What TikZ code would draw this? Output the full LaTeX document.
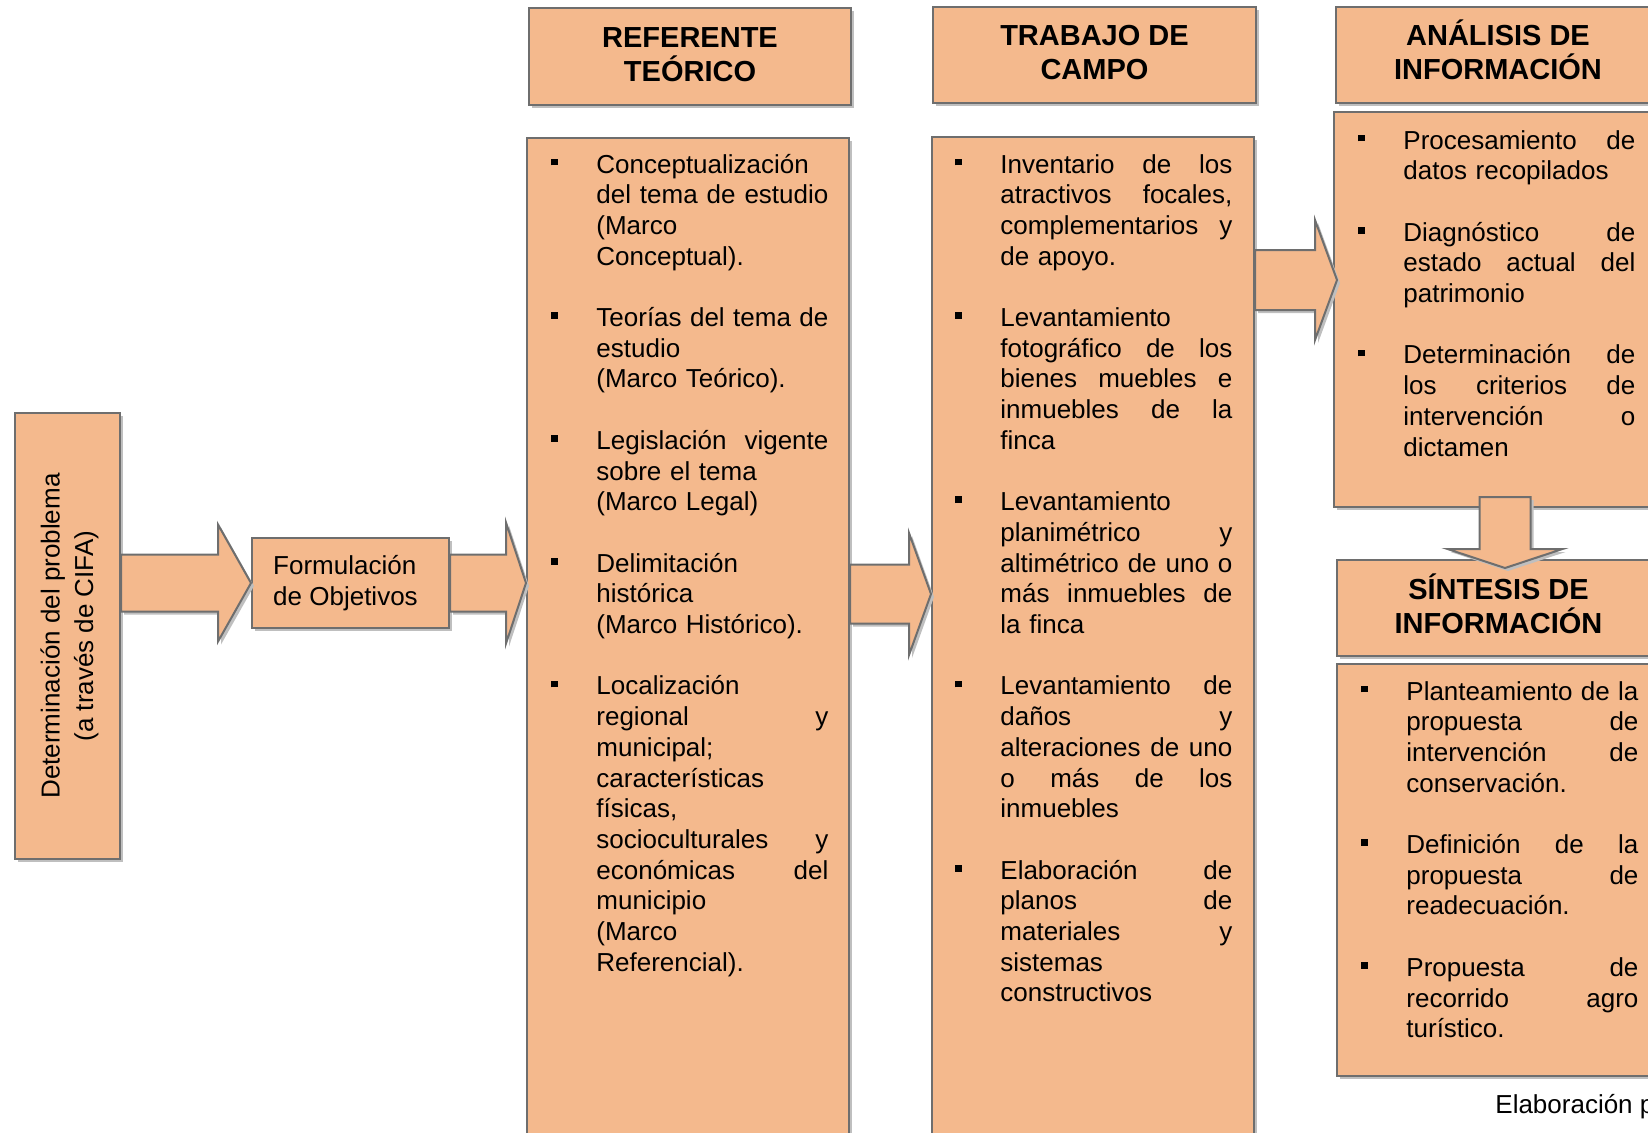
\documentclass[tikz,border=0pt]{standalone}
\usepackage{fontspec}
\setmainfont{Liberation Sans}
\usetikzlibrary{calc,fit,shadows}

\begin{document}
\begin{tikzpicture}[x=0.5pt,y=-0.5pt,
    box/.style={draw=graya, fill=peacha, line width=1pt, inner sep=0pt,
      drop shadow={shadow xshift=1.5pt, shadow yshift=-1.5pt, fill=black!25, opacity=1}},
    head/.style={align=center, inner sep=0pt, font=\fontsize{14.5}{17}\selectfont\bfseries},
    txt/.style={anchor=base west, inner sep=0pt, text width=116pt, align=left,
      font=\fontsize{13}{15.35}\selectfont},
    blk/.style={draw=graya, fill=peacha, line width=1pt, line join=miter,
      drop shadow={shadow xshift=1.5pt, shadow yshift=-1.5pt, fill=black!25, opacity=1}}]
    \definecolor{peacha}{HTML}{F4B98D}
    \definecolor{graya}{HTML}{6E6E6E}
    \def\g{15.35pt}
    \def\bul{\leavevmode\llap{\rule[3.8pt]{3.4pt}{3.4pt}\hspace{19.1pt}}}
    \def\jl#1{\leavevmode\hbox to 116pt{\spaceskip=.278em plus 1fil\relax#1}}
    % block arrow: start, tip, half shaft, half head, head length
    \def\rarr#1#2#3#4#5{\draw[blk] ($(#1)+(0,-#3)$) -- ($(#2)+(-#5,-#3)$) -- ($(#2)+(-#5,-#4)$) -- (#2)
      -- ($(#2)+(-#5,#4)$) -- ($(#2)+(-#5,#3)$) -- ($(#1)+(0,#3)$) -- cycle;}
    \useasboundingbox (0,0) rectangle (1648,1132);

    % left part
    \node[box, fit={(15,413) (120,859)}] (lbox) {};
    \node[rotate=90, align=center, font=\fontsize{13}{16.8}\selectfont] (ltxt) at ([xshift=1pt]lbox.center)
      {Determinación del problema\\(a través de CIFA)};
    \node[box, fit={(252,538) (449,628)}] (fo) {};
    \node[align=left, font=\fontsize{13}{15.6}\selectfont] (fotxt) at ([xshift=-2.5pt]fo.center)
      {Formulación\\de Objetivos};

    % headers
    \node[box, fit={(529,8) (851,105)}] (refh) {};
    \node[box, fit={(933,7) (1256,103)}] (trah) {};
    \node[box, fit={(1336,7) (1660,103)}] (anah) {};
    \node[box, fit={(1337,560) (1660,656)}] (sinh) {};
    \node[head] (refhtxt) at ([yshift=1pt]refh.center) {REFERENTE\\TEÓRICO};
    \node[head] (trahtxt) at ([yshift=1pt]trah.center) {TRABAJO DE\\CAMPO};
    \node[head] (anahtxt) at ([yshift=2.7pt]anah.center) {ANÁLISIS DE\\INFORMACIÓN};

    % content boxes
    \node[box, fit={(527,138) (849,1140)}] (ref) {};
    \node[box, fit={(932,137) (1254,1140)}] (tra) {};
    \node[box, fit={(1334,112) (1658,507)}] (ana) {};
    \node[box, fit={(1337,664) (1660,1076)}] (sin) {};

    \node[txt] (reft) at (596,173) {%
      \bul Conceptualización\\
      \jl{del tema de estudio}\\
      (Marco\\
      Conceptual).\\[\g]
      \bul\jl{Teorías del tema de}\\
      estudio\\
      (Marco Teórico).\\[\g]
      \bul\jl{Legislación vigente}\\
      sobre el tema\\
      (Marco Legal)\\[\g]
      \bul Delimitación\\
      histórica\\
      (Marco Histórico).\\[\g]
      \bul Localización\\
      \jl{regional y}\\
      municipal;\\
      características\\
      físicas,\\
      \jl{socioculturales y}\\
      \jl{económicas del}\\
      municipio\\
      (Marco\\
      Referencial).};

    \node[txt] (trat) at (1000,173) {%
      \bul\jl{Inventario de los}\\
      \jl{atractivos focales,}\\
      \jl{complementarios y}\\
      de apoyo.\\[\g]
      \bul Levantamiento\\
      \jl{fotográfico de los}\\
      \jl{bienes muebles e}\\
      \jl{inmuebles de la}\\
      finca\\[\g]
      \bul Levantamiento\\
      \jl{planimétrico y}\\
      \jl{altimétrico de uno o}\\
      \jl{más inmuebles de}\\
      la finca\\[\g]
      \bul\jl{Levantamiento de}\\
      \jl{daños y}\\
      \jl{alteraciones de uno}\\
      \jl{o más de los}\\
      inmuebles\\[\g]
      \bul\jl{Elaboración de}\\
      \jl{planos de}\\
      \jl{materiales y}\\
      sistemas\\
      constructivos};

    \node[txt] (anat) at (1403,149) {%
      \bul\jl{Procesamiento de}\\
      datos recopilados\\[\g]
      \bul\jl{Diagnóstico de}\\
      \jl{estado actual del}\\
      patrimonio\\[\g]
      \bul\jl{Determinación de}\\
      \jl{los criterios de}\\
      \jl{intervención o}\\
      dictamen};

    \node[txt] (sint) at (1406,700) {%
      \bul\jl{Planteamiento de la}\\
      \jl{propuesta de}\\
      \jl{intervención de}\\
      conservación.\\[\g]
      \bul\jl{Definición de la}\\
      \jl{propuesta de}\\
      readecuación.\\[\g]
      \bul\jl{Propuesta de}\\
      \jl{recorrido agro}\\
      turístico.};

    \node[anchor=base west, inner sep=0pt, font=\fontsize{13}{15.35}\selectfont] (src) at (1495,1113)
      {Elaboración p};

    % arrows
    \path (lbox.east |- fo.west) coordinate (a1)
          (fo.east) coordinate (a2) (ref.west |- fo.west) coordinate (b2)
          (ref.east |- 0,594) coordinate (a3) (tra.west |- 0,594) coordinate (b3)
          (tra.east |- 0,280) coordinate (a4) ([xshift=2pt]ana.west |- 0,280) coordinate (b4)
          (1505,497) coordinate (a5) (1505,568) coordinate (b5);
    \rarr{a1}{fo.west}{28.5}{58.5}{33}
    \rarr{a2}{b2}{28.5}{60.5}{20}
    \rarr{a3}{b3}{29.5}{61}{22}
    \rarr{a4}{b4}{30}{60}{22}
    \draw[blk] ($(a5)+(-25.5,0)$) -- ($(b5)+(-25.5,-19)$) -- ($(b5)+(-57.5,-19)$) -- (b5)
      -- ($(b5)+(57.5,-19)$) -- ($(b5)+(25.5,-19)$) -- ($(a5)+(25.5,0)$) -- cycle;
    \node[head] (sinhtxt) at ([yshift=2.2pt]sinh.center) {SÍNTESIS DE\\INFORMACIÓN};
\end{tikzpicture}
\end{document}
